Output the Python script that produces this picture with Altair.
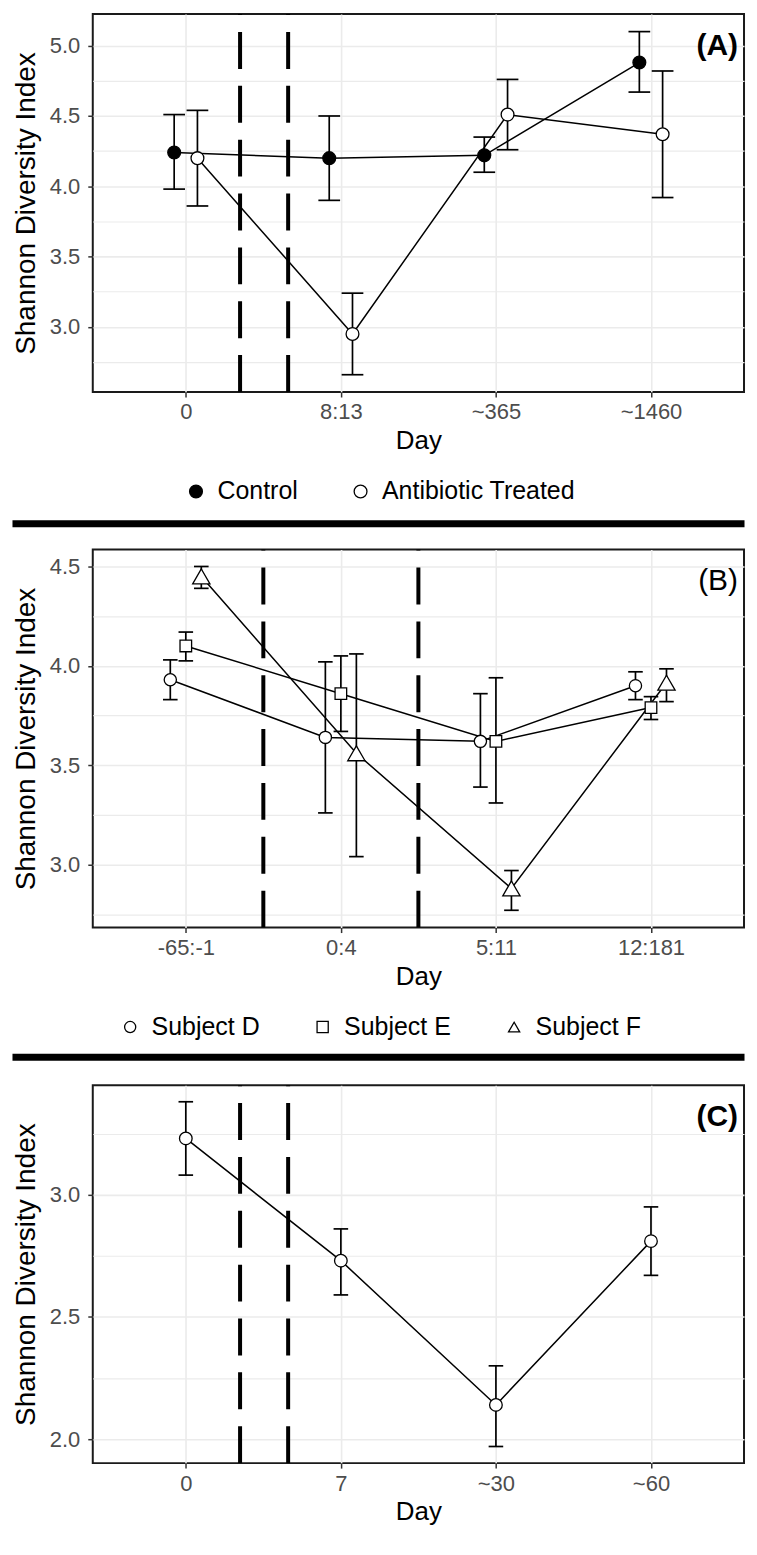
import altair as alt
import pandas as pd

# ---------------- data ----------------
# Panel (A)
a_days = ["0", "8:13", "~365", "~1460"]
a_groups = ["Control", "Antibiotic Treated"]
a_control_mean = [4.24, 4.20, 4.22, 4.88]
a_control_lo = [3.98, 3.90, 4.10, 4.67]
a_control_hi = [4.51, 4.50, 4.35, 5.10]
a_treated_mean = [4.20, 2.95, 4.51, 4.37]
a_treated_lo = [3.86, 2.66, 4.26, 3.92]
a_treated_hi = [4.54, 3.24, 4.76, 4.82]
a_vlines = [1.35, 1.66]
a_y_major = [3.0, 3.5, 4.0, 4.5, 5.0]
a_y_minor = [2.75, 3.25, 3.75, 4.25, 4.75]

# Panel (B)
b_days = ["-65:-1", "0:4", "5:11", "12:181"]
b_groups = ["Subject D", "Subject E", "Subject F"]
b_d_mean = [3.93, 3.64, 3.62, 3.90]
b_d_lo = [3.83, 3.26, 3.39, 3.83]
b_d_hi = [4.03, 4.02, 3.86, 3.97]
b_e_mean = [4.10, 3.86, 3.62, 3.79]
b_e_lo = [4.025, 3.67, 3.31, 3.73]
b_e_hi = [4.17, 4.05, 3.94, 3.845]
b_f_mean = [4.45, 3.56, 2.88, 3.915]
b_f_lo = [4.39, 3.04, 2.77, 3.82]
b_f_hi = [4.50, 4.06, 2.97, 3.985]
b_vlines = [1.5, 2.5]
b_y_major = [3.0, 3.5, 4.0, 4.5]
b_y_minor = [2.75, 3.25, 3.75, 4.25]

# Panel (C)
c_days = ["0", "7", "~30", "~60"]
c_groups = ["Subject"]
c_mean = [3.23, 2.73, 2.14, 2.81]
c_lo = [3.08, 2.59, 1.97, 2.67]
c_hi = [3.38, 2.86, 2.30, 2.95]
c_vlines = [1.35, 1.66]
c_y_major = [2.0, 2.5, 3.0]
c_y_minor = [2.25, 2.75, 3.25]

# ---------------- style ----------------
FONT = "Liberation Sans"
W, H = 653, 379
SEP_W = 7
SEP_LEFT = -84 + SEP_W / 2
SEP_RIGHT = W + 4 - SEP_W / 2


def long_df(days, groups, means, los, his, offsets):
    rows = []
    for g, m, lo, hi, off in zip(groups, means, los, his, offsets):
        for i, d in enumerate(days):
            rows.append(dict(day=d, idx=i + 1, group=g, mean=m[i], lo=lo[i], hi=hi[i], off=off))
    return pd.DataFrame(rows)


MAJOR_TEST = "abs(datum.value*2 - round(datum.value*2)) < 0.001"


def panel(df, days, groups, y_domain, y_major, y_minor, vlines, cap_half,
          label, label_weight, fills, shapes, size_enc, legend_x, sep_y,
          legend=True, sym_size=150):
    xs = alt.Scale(domain=[0.4, 4.6], nice=False, zero=False)
    ys = alt.Scale(domain=y_domain, nice=False, zero=False)
    label_js = "[" + ",".join("'%s'" % d for d in days) + "]"
    x_axis = alt.Axis(
        values=[1, 2, 3, 4], labelExpr=label_js + "[datum.value - 1]",
        grid=True, gridColor="#EBEBEB", gridWidth=1.6, domain=False,
        tickColor="#333333", tickSize=5, tickWidth=1.5,
        labelColor="#4D4D4D", labelFontSize=22, labelFont=FONT, labelPadding=5,
        titleFontSize=26, titleFontWeight="normal", titleColor="black",
        titleFont=FONT, titlePadding=5,
    )
    y_axis = alt.Axis(
        values=sorted(y_major + y_minor),
        labelExpr=MAJOR_TEST + " ? format(datum.value, '.1f') : ''",
        grid=True, gridColor="#EBEBEB",
        gridWidth={"condition": {"test": MAJOR_TEST, "value": 1.6}, "value": 1.1},
        domain=False, tickColor="#333333", tickSize=5, tickWidth=1.5,
        tickOpacity={"condition": {"test": MAJOR_TEST, "value": 1}, "value": 0},
        labelColor="#4D4D4D", labelFontSize=22, labelFont=FONT, labelPadding=8,
        titleFontSize=28, titleFontWeight="normal", titleColor="black",
        titleFont=FONT, titlePadding=9,
    )
    XT = "Day"
    YT = "Shannon Diversity Index"

    base = alt.Chart(df).transform_calculate(
        x="datum.idx + datum.off",
        xl="datum.idx + datum.off - %f" % cap_half,
        xr="datum.idx + datum.off + %f" % cap_half,
    )

    vl = alt.Chart(pd.DataFrame({"v": vlines})).mark_rule(
        color="black", strokeWidth=4, strokeDash=[37, 17]
    ).encode(
        x=alt.X("v:Q", scale=xs, axis=x_axis, title=XT),
        y=alt.value(H), y2=alt.value(0),
    )

    line = base.mark_line(color="black", strokeWidth=1.5).encode(
        x=alt.X("x:Q", scale=xs, axis=x_axis, title=XT),
        y=alt.Y("mean:Q", scale=ys, axis=y_axis, title=YT),
        detail="group:N",
        order="idx:Q",
    )

    err = base.mark_rule(color="black", strokeWidth=1.7).encode(
        x=alt.X("x:Q", scale=xs, axis=x_axis, title=XT),
        y=alt.Y("lo:Q", scale=ys, axis=y_axis, title=YT),
        y2="hi:Q",
    )

    caps = base.transform_fold(["lo", "hi"], as_=["end", "yv"]).mark_rule(
        color="black", strokeWidth=1.7
    ).encode(
        x=alt.X("xl:Q", scale=xs, axis=x_axis, title=XT),
        x2="xr:Q",
        y=alt.Y("yv:Q", scale=ys, axis=y_axis, title=YT),
    )

    if legend:
        leg = alt.Legend(
            orient="none", legendX=legend_x, legendY=466, direction="horizontal",
            title=None, labelFontSize=25, labelFont=FONT, labelColor="black",
            columnPadding=50, labelOffset=9, padding=0, symbolStrokeWidth=1.3,
            symbolStrokeColor="black", labelLimit=500, symbolSize=sym_size,
        )
    else:
        leg = None
    pts = base.mark_point(filled=True, opacity=1, strokeWidth=1.3).encode(
        x=alt.X("x:Q", scale=xs, axis=x_axis, title=XT),
        y=alt.Y("mean:Q", scale=ys, axis=y_axis, title=YT),
        fill=alt.Fill("group:N", scale=alt.Scale(domain=groups, range=fills), legend=leg),
        shape=alt.Shape("group:N", scale=alt.Scale(domain=groups, range=shapes), legend=leg),
        stroke=alt.Stroke("group:N", scale=alt.Scale(domain=groups, range=["black"] * len(groups)), legend=leg),
        size=size_enc,
    )

    lab = alt.Chart(pd.DataFrame({"t": [label]})).mark_text(
        align="right", baseline="middle", fontSize=30, fontWeight=label_weight,
        font=FONT, color="black",
    ).encode(x=alt.value(W - 6), y=alt.value(32), text="t:N")

    layers = [vl, line, err, caps, pts, lab]
    if sep_y is not None:
        sep = alt.Chart(pd.DataFrame({"s": [0]})).mark_rule(
            color="black", strokeWidth=SEP_W
        ).encode(x=alt.value(SEP_LEFT), x2=alt.value(SEP_RIGHT), y=alt.value(sep_y))
        layers.append(sep)
    return alt.layer(*layers).properties(width=W, height=H)


dfA = long_df(a_days, a_groups,
              [a_control_mean, a_treated_mean], [a_control_lo, a_treated_lo],
              [a_control_hi, a_treated_hi], [-0.075, 0.075])
dfB = long_df(b_days, b_groups,
              [b_d_mean, b_e_mean, b_f_mean], [b_d_lo, b_e_lo, b_f_lo],
              [b_d_hi, b_e_hi, b_f_hi], [-0.1, 0.0, 0.1])
dfC = long_df(c_days, c_groups, [c_mean], [c_lo], [c_hi], [0.0])

size_b = alt.SizeValue(
    150,
    condition=[
        {"test": "datum.group == 'Subject F'", "value": 300},
        {"test": "datum.group == 'Subject E'", "value": 135},
    ],
)

pA = panel(dfA, a_days, a_groups, [2.537, 5.225], a_y_major, a_y_minor, a_vlines, 0.07,
           "(A)", "bold", ["black", "white"], ["circle", "circle"], alt.value(165), 91, 511,
           sym_size=165)
pB = panel(dfB, b_days, b_groups, [2.683, 4.585], b_y_major, b_y_minor, b_vlines, 0.047,
           "(B)", "normal", ["white", "white", "white"], ["circle", "square", "triangle-up"],
           size_b, 25, 509, sym_size=125)
pC = panel(dfC, c_days, c_groups, [1.902, 3.448], c_y_major, c_y_minor, c_vlines, 0.047,
           "(C)", "bold", ["white"], ["circle"], alt.value(160), 0, None, legend=False)

chart = alt.vconcat(pA, pB, pC, spacing=158, bounds="flush").resolve_scale(
    x="independent", y="independent", fill="independent", shape="independent",
    stroke="independent",
).resolve_legend(
    fill="independent", shape="independent", stroke="independent",
).properties(
    padding={"left": 0, "top": 1, "right": 0, "bottom": 0}
).configure(font=FONT).configure_view(stroke="#1a1a1a", strokeWidth=2)

chart.save("out.html", embed_options={"renderer": "svg", "actions": False})
